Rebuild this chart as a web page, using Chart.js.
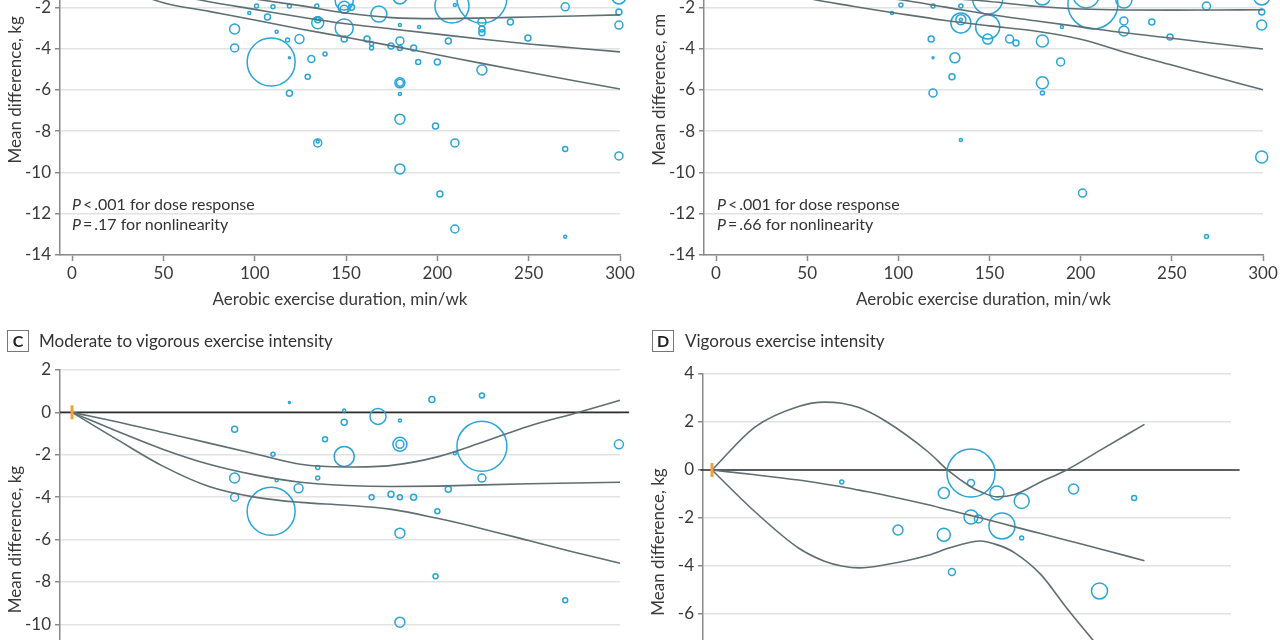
<!DOCTYPE html>
<html><head><meta charset="utf-8">
<script src="https://cdn.jsdelivr.net/npm/chart.js@4"></script>
<style>
html,body{margin:0;padding:0;width:1280px;height:640px;overflow:hidden;background:#fff;font-family:Lato,sans-serif;color:#333}
.pane{position:absolute}
.pane canvas{display:block}
.txt{position:absolute;font-size:16px;line-height:20px;color:#333;white-space:nowrap}
.lab{position:absolute;width:20px;height:20px;border:1px solid #777;font-weight:bold;font-size:16px;text-align:center;line-height:20px;color:#222}
.hdr{position:absolute;font-size:17px;line-height:22px;color:#333;white-space:nowrap}
</style></head><body>

<div class="pane" style="left:0px;top:-105px"><canvas id="cA" width="660" height="430"></canvas></div>
<div class="pane" style="left:644px;top:-105px"><canvas id="cB" width="659" height="430"></canvas></div>
<div class="pane" style="left:0px;top:340px"><canvas id="cC" width="660" height="439"></canvas></div>
<div class="pane" style="left:643px;top:344px"><canvas id="cD" width="628" height="436"></canvas></div>

<div class="txt" style="left:72px;top:194px"><i>P</i>&thinsp;&lt;&thinsp;.001 for dose response<br><i>P</i>&thinsp;=&thinsp;.17 for nonlinearity</div>
<div class="txt" style="left:717px;top:194px"><i>P</i>&thinsp;&lt;&thinsp;.001 for dose response<br><i>P</i>&thinsp;=&thinsp;.66 for nonlinearity</div>

<div class="lab" style="left:7px;top:330px">C</div>
<div class="hdr" style="left:39px;top:330px">Moderate to vigorous exercise intensity</div>
<div class="lab" style="left:652px;top:330px">D</div>
<div class="hdr" style="left:685px;top:330px">Vigorous exercise intensity</div>

<script>
// ---------- data ----------
const xTicks = [0, 50, 100, 150, 200, 250, 300];
const curveX = [0, 25, 50, 75, 100, 125, 150, 175, 200, 225, 250, 275, 300];

// Panel A: body weight (kg)
const aMid  = [0, -0.75, -1.3, -1.73, -2.1, -2.47, -2.8, -3.05, -3.3, -3.55, -3.78, -3.97, -4.16];
const aLow  = [0, -1.0, -1.78, -2.2, -2.62, -3.05, -3.45, -3.87, -4.3, -4.73, -5.15, -5.56, -5.96];
const aHigh = [0, -0.5, -0.9, -1.3, -1.6, -1.92, -2.28, -2.5, -2.55, -2.52, -2.47, -2.42, -2.37];
const aX = [101,110,119,134,97,107,89,89,112,118,124.5,109,119,131,138.5,129,119,134.5,134.5,134.5,134.5,134.5,149,149,149,153,149,149,168,179.5,179.5,190,161.5,164,164,174.6,179.5,179.5,187,189.5,200,206,179.5,179.5,179.5,179.5,199,209.6,270,299.4,208,224.4,224.4,224.4,224.4,240,249.6,270,299.4,299.4,299.4,209.6,224.4,179.5,201.4,209.6,270];
const aY = [-1.94,-1.98,-1.94,-1.94,-2.28,-2.47,-3.05,-3.97,-3.19,-3.58,-3.54,-4.65,-4.45,-4.5,-4.26,-5.37,-6.16,-8.57,-8.5,-2.75,-2.6,-2.55,-1.7,-2.0,-2.1,-2.0,-3.0,-3.54,-2.33,-1.5,-2.86,-2.95,-3.54,-3.77,-3.97,-3.87,-3.63,-3.97,-3.97,-4.65,-4.65,-3.63,-5.66,-5.66,-6.2,-7.42,-7.75,-8.57,-8.86,-9.2,-1.94,-1.55,-2.71,-3.05,-3.24,-2.71,-3.49,-1.98,-1.5,-2.23,-2.86,-1.89,-5.04,-9.83,-11.04,-12.74,-13.12];
const aR = [2,2,2,2,1.5,3,5,4,1.5,2,4.5,24,1,3.5,2,2.5,3,4,1.5,6,3,1.5,9,6,4,3,9,3,8,7,1.5,1.5,3,2,2,3,4,2.5,3,2.5,3,3,5,3.5,1.5,5,3,4,2.5,4,17,25,4,3,3,3,3,4,7,3,4,1.5,5,5,3,4,1.5];

// Panel B: waist circumference (cm)
const bMid  = [0, -0.6, -1.05, -1.4, -1.62, -1.98, -2.35, -2.65, -2.95, -3.25, -3.5, -3.77, -4.02];
const bLow  = [0, -0.9, -1.55, -1.95, -2.3, -2.63, -2.9, -3.15, -3.55, -4.2, -4.8, -5.4, -6.0];
const bHigh = [0, -0.4, -0.8, -1.1, -1.35, -1.55, -1.72, -1.95, -2.08, -2.13, -2.14, -2.13, -2.12];
const bX = [96.5,101.4,119,134.3,134.3,134.3,134.3,118,119,131,129.4,119,134.3,149,149,149,161,164.5,179,179,189.7,189,179,179,206.7,203,223.7,223.7,223.7,239,249,269,299.3,299.3,299.3,299.3,201,269];
const bY = [-2.28,-1.89,-1.94,-1.94,-2.76,-2.6,-2.6,-3.54,-4.45,-4.45,-5.37,-6.15,-8.43,-1.6,-2.95,-3.54,-3.54,-3.73,-3.63,-1.5,-2.95,-4.65,-5.66,-6.15,-1.84,-1.4,-2.66,-3.15,-1.65,-2.71,-3.44,-1.94,-1.5,-2.23,-2.86,-9.25,-11.0,-13.1];
const bR = [1.5,2,2,2,10,5,1.5,3,1,5,3,4,1.5,15,12,5,4,3,6,8,1.5,4,6,2,25,13,4,5,8,3,3,4,8,3,5,6,4,2];

// Panel C: moderate to vigorous intensity (kg)
const cMid  = [0, -0.9, -1.75, -2.45, -2.95, -3.3, -3.45, -3.5, -3.48, -3.42, -3.37, -3.33, -3.3];
const cLow  = [0, -1.3, -2.55, -3.5, -4.0, -4.25, -4.38, -4.58, -5.0, -5.5, -6.05, -6.6, -7.12];
const cHigh = [0, -0.45, -0.95, -1.45, -1.95, -2.45, -2.58, -2.5, -2.1, -1.4, -0.65, -0.05, 0.57];
const cX = [119,89,110,138.5,134.5,134.5,112,89,89,124,109,149,149,167.5,179.5,149,179.5,179.5,197,224.4,224.4,209.6,224.4,206,164,174.6,179.5,187,200,179.5,199,270,179.5,299.4];
const cY = [0.47,-0.8,-1.98,-1.27,-2.6,-3.1,-3.2,-3.1,-4.0,-3.58,-4.67,0.09,-0.47,-0.19,-0.38,-2.08,-1.51,-1.51,0.61,0.8,-1.6,-1.93,-3.1,-3.63,-4.0,-3.87,-4.0,-4.0,-4.67,-5.7,-7.74,-8.87,-9.9,-1.51];
const cR = [1,3,2,2.5,2,2,1.5,5,4,4.5,24,1.5,3,8,1.5,10,7,4,3,2.5,25,1.5,4,3,2.5,3,2.5,3,2.5,5,2.5,2.5,5,4.5];

// Panel D: vigorous intensity (kg)
const dCurveX = [0, 25, 50, 65, 75, 85, 100, 125, 137, 150, 155, 165, 175, 190, 205, 225, 250];
const dMid  = [0, -0.2, -0.42, -0.58, -0.7, -0.84, -1.05, -1.45, -1.67, -1.9, -1.99, -2.18, -2.37, -2.65, -2.93, -3.3, -3.78];
const dLow  = [0, -1.75, -3.25, -3.8, -4.0, -4.08, -3.95, -3.55, -3.25, -3.0, -2.96, -3.12, -3.45, -4.35, -5.75, -7.5, -9.6];
const dHigh = [0, 1.8, 2.65, 2.83, 2.78, 2.6, 2.05, 0.75, -0.05, -0.72, -0.9, -1.12, -1.02, -0.5, 0.0, 0.85, 1.9];
const dX = [75,107.5,134,134,138.7,149.7,149.7,149.7,154,164.7,167.6,179,179,209,244,224];
const dY = [-0.5,-2.5,-0.96,-2.7,-4.25,-0.13,-0.54,-1.96,-2.04,-0.96,-2.33,-1.29,-2.83,-0.79,-1.17,-5.04];
const dR = [2,5,5.5,6.5,3.5,24,3.5,7,4,7,13,7.5,2,5,2.5,8];

const zeroLineX = [-6.6, 305];

// ---------- drawing ----------
const FONT = 'Lato, "Open Sans", sans-serif';
const TXT = '#3a3a3a';
const CURVE = '#5e6e72';
const BUB = '#2aa5d8';

function pts(xs, ys) { return xs.map((x, i) => ({x: x, y: ys[i]})); }
function bub(xs, ys, rs) { return xs.map((x, i) => ({x: x, y: ys[i], r: rs[i]})); }

function curve(xs, ys) {
  return {type: 'line', data: pts(xs, ys), borderColor: CURVE, borderWidth: 1.6,
          pointRadius: 0, cubicInterpolationMode: 'monotone', fill: false, clip: false, order: 1};
}

function make(id, o) {
  const datasets = [
    {type: 'line', data: pts(zeroLineX, [0, 0]), borderColor: '#2e2e2e', borderWidth: 1.7,
     pointRadius: 0, clip: false, order: 3},
    curve(o.cx, o.hi), curve(o.cx, o.mid), curve(o.cx, o.lo),
    {type: 'bubble', data: bub(o.bx, o.by, o.br), backgroundColor: 'rgba(0,0,0,0)',
     borderColor: BUB, borderWidth: 1.5, hoverRadius: 0, hoverBorderWidth: 0, clip: false, order: 2},
    {type: 'scatter', data: [{x: 0, y: 0}], pointStyle: 'line', rotation: 90, pointRadius: 7,
     borderColor: '#f0a13a', borderWidth: 3, clip: false, order: 0}
  ];
  new Chart(document.getElementById(id), {
    type: 'bubble',
    data: {datasets: datasets},
    options: {
      responsive: false, animation: false, devicePixelRatio: 1,
      layout: {padding: {left: 0, top: o.pt, right: 40, bottom: 0}},
      plugins: {legend: {display: false}, tooltip: {enabled: false}},
      events: [],
      scales: {
        x: {type: 'linear', min: o.xmin, max: 300,
            afterBuildTicks: s => { s.ticks = xTicks.map(v => ({value: v})); },
            afterFit: s => { s.height = 70; },
            grid: {drawOnChartArea: false, drawTicks: true, tickLength: 6, tickColor: '#8a8a8a', tickWidth: 1.5},
            border: {color: '#8a8a8a', width: 1.5},
            ticks: {color: TXT, font: {family: FONT, size: 17}, padding: 2, maxRotation: 0},
            title: {display: true, text: 'Aerobic exercise duration, min/wk', color: TXT,
                    font: {family: FONT, size: 17}, padding: {top: 0, bottom: 15}}},
        y: {type: 'linear', min: o.ymin, max: o.ymax,
            afterBuildTicks: s => { const t = []; for (let v = o.ymin; v <= o.ymax; v += 2) t.push({value: v}); s.ticks = t; },
            afterFit: s => { s.width = 60; },
            grid: {color: '#e2e2e2', lineWidth: 1.5, drawTicks: true, tickLength: 5, tickColor: '#8a8a8a', tickWidth: 1.5},
            border: {color: '#8a8a8a', width: 1.5},
            ticks: {color: TXT, font: {family: FONT, size: 17}, padding: 4},
            title: {display: true, text: o.ytitle, color: TXT, font: {family: FONT, size: 17},
                    padding: {top: 5, bottom: 0}}}
      }
    }
  });
}

make('cA', {pt: 29.7, xmin: -6.6, ymin: -14, ymax: 2, ytitle: 'Mean difference, kg',
            cx: curveX, hi: aHigh, mid: aMid, lo: aLow, bx: aX, by: aY, br: aR});
make('cB', {pt: 29.7, xmin: -6.6, ymin: -14, ymax: 2, ytitle: 'Mean difference, cm',
            cx: curveX, hi: bHigh, mid: bMid, lo: bLow, bx: bX, by: bY, br: bR});
make('cC', {pt: 30, xmin: -6.6, ymin: -14, ymax: 2, ytitle: 'Mean difference, kg',
            cx: curveX, hi: cHigh, mid: cMid, lo: cLow, bx: cX, by: cY, br: cR});
make('cD', {pt: 30, xmin: -5.2, ymin: -10, ymax: 4, ytitle: 'Mean difference, kg',
            cx: dCurveX, hi: dHigh, mid: dMid, lo: dLow, bx: dX, by: dY, br: dR});
</script>
</body></html>
